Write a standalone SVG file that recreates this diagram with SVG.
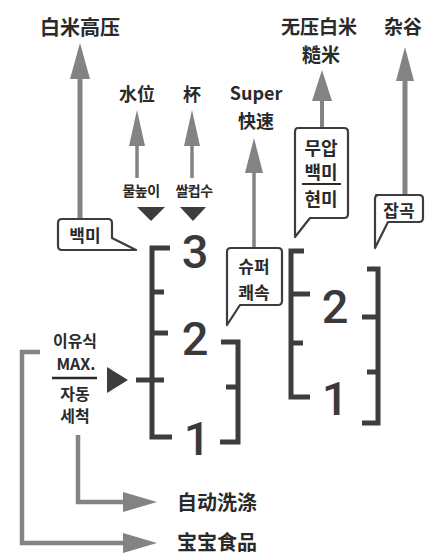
<svg xmlns="http://www.w3.org/2000/svg" width="430" height="555" viewBox="0 0 430 555">
<style>
.t{font-family:"Noto Sans CJK SC","Noto Sans CJK KR",sans-serif;font-weight:700;fill:#2a2a2a;text-anchor:middle}
.k{font-family:"Noto Sans CJK KR","Noto Sans CJK SC",sans-serif;font-weight:700;fill:#2a2a2a;text-anchor:middle}
.d{font-family:Roboto,"Liberation Sans",Arial,sans-serif;font-weight:500;font-size:47px;fill:#3a3a3c;text-anchor:middle}
.br{fill:none;stroke:#3d3d3f;stroke-width:5;stroke-linejoin:miter;stroke-linecap:butt}
.gl{fill:none;stroke:#838386;stroke-linejoin:miter}
.gh{fill:#838386}
.bx{fill:#fff;stroke:#3d3d3f;stroke-width:2.2;stroke-linejoin:round}
.tri{fill:#3d3d3f}
</style>
<rect width="430" height="555" fill="#fff"/>
<g id="connectors">
  <line class="gl" x1="80" y1="218" x2="80" y2="75" stroke-width="5"/>
  <polygon class="gh" points="80,43 90,79 70,79"/>
  <line class="gl" x1="137" y1="178" x2="137" y2="140" stroke-width="3.5"/>
  <polygon class="gh" points="137,110 145,146 129,146"/>
  <line class="gl" x1="192" y1="178" x2="192" y2="140" stroke-width="3.5"/>
  <polygon class="gh" points="192,110 200,146 184,146"/>
  <line class="gl" x1="254" y1="248" x2="254" y2="168" stroke-width="3.5"/>
  <polygon class="gh" points="254,138 263,173 245,173"/>
  <line class="gl" x1="322" y1="128" x2="322" y2="96" stroke-width="4"/>
  <polygon class="gh" points="322,70 332,101 312,101"/>
  <line class="gl" x1="405" y1="195" x2="405" y2="76" stroke-width="5"/>
  <polygon class="gh" points="405,47 414,81 396,81"/>
  <polyline class="gl" points="78,435 78,502 126,502" stroke-width="4.5"/>
  <polygon class="gh" points="157,502 123,492 123,512"/>
  <polyline class="gl" points="40,352 22,352 22,543 126,543" stroke-width="4.5"/>
  <polygon class="gh" points="157,543 123,533 123,553"/>
</g>
<g id="scale-main">
  <polyline class="br" points="170,248 152,248 152,437 172,437"/>
  <line class="br" x1="152" y1="292" x2="164" y2="292"/>
  <line class="br" x1="152" y1="333" x2="168" y2="333"/>
  <line class="br" x1="136" y1="380" x2="164" y2="380"/>
  <text class="d" x="195" y="268">3</text>
  <text class="d" x="195" y="355">2</text>
  <text class="d" x="197" y="455">1</text>
  <polygon class="tri" points="137,207 165,207 151,221"/>
  <polygon class="tri" points="180,207 206,207 193,221"/>
</g>
<g id="scale-small">
  <polyline class="br" points="221,342 238,342 238,442 220,442"/>
  <line class="br" x1="226" y1="387" x2="238" y2="387"/>
</g>
<g id="scale-right">
  <polyline class="br" points="304,251 291,251 291,397 310,397"/>
  <line class="br" x1="291" y1="294" x2="310" y2="294"/>
  <line class="br" x1="291" y1="343" x2="303" y2="343"/>
  <text class="d" x="335" y="323">2</text>
  <text class="d" x="335" y="415">1</text>
  <polyline class="br" points="367,269 378,269 378,423 362,423"/>
  <line class="br" x1="362" y1="317" x2="378" y2="317"/>
  <line class="br" x1="367" y1="372" x2="378" y2="372"/>
</g>
<g id="label-baimi-gaoya"><text class="t" x="80" y="35" font-size="20">白米高压</text></g>
<g id="label-shuiwei"><text class="t" x="137" y="101" font-size="18">水位</text></g>
<g id="label-bei"><text class="t" x="192" y="101" font-size="18">杯</text></g>
<g id="label-super"><text class="t" x="256" y="100" font-size="18" font-family="Noto Sans, sans-serif">Super</text><text class="t" x="256" y="128" font-size="18">快速</text></g>
<g id="label-wuya"><text class="t" x="319" y="34" font-size="19">无压白米</text><text class="t" x="321" y="62" font-size="19">糙米</text></g>
<g id="label-zagu"><text class="t" x="403" y="34" font-size="19">杂谷</text></g>
<g id="label-water"><text class="k" x="141" y="196" font-size="14" letter-spacing="-0.5">물높이</text><text class="k" x="194" y="196" font-size="14" letter-spacing="-0.5">쌀컵수</text></g>
<g id="box-baekmi">
  <path class="bx" d="M62,219 H108 Q112,219 112,223 V238 L136,250 H62 Q58,250 58,246 V223 Q58,219 62,219 Z"/>
  <text class="k" x="85" y="242" font-size="17">백미</text>
</g>
<g id="box-super">
  <path class="bx" d="M231,248 H278 Q282,248 282,252 V301 Q282,305 278,305 H240 L227,325 V252 Q227,248 231,248 Z"/>
  <text class="k" x="254" y="273" font-size="17">슈퍼</text>
  <text class="k" x="254" y="299" font-size="17">쾌속</text>
</g>
<g id="box-muap">
  <path class="bx" d="M298,128 H344 Q348,128 348,132 V214 Q348,218 344,218 H310 L295,237 V132 Q295,128 298,128 Z"/>
  <text class="k" x="321" y="155" font-size="18">무압</text>
  <text class="k" x="321" y="179" font-size="18">백미</text>
  <line x1="302" y1="184" x2="341" y2="184" stroke="#2a2a2a" stroke-width="2"/>
  <text class="k" x="321" y="206" font-size="18">현미</text>
</g>
<g id="box-japgok">
  <path class="bx" d="M376,195 H419 Q423,195 423,199 V218 Q423,222 419,222 H388 L375,248 V199 Q375,195 379,195 Z"/>
  <text class="k" x="399" y="217" font-size="17">잡곡</text>
</g>
<g id="label-iyusik">
  <text class="k" x="75" y="347" font-size="16">이유식</text>
  <text class="k" x="76" y="370" font-size="16" font-family="Noto Sans, sans-serif" font-weight="400">MAX.</text>
  <line x1="52" y1="378" x2="97" y2="378" stroke="#2a2a2a" stroke-width="2.5"/>
  <text class="k" x="75" y="400" font-size="16">자동</text>
  <text class="k" x="75" y="422" font-size="16">세척</text>
  <polygon class="tri" points="107,367 107,393 128,380"/>
</g>
<g id="label-zidong"><text class="t" x="217" y="510" font-size="20">自动洗涤</text></g>
<g id="label-baobao"><text class="t" x="217" y="550" font-size="20">宝宝食品</text></g>
</svg>
